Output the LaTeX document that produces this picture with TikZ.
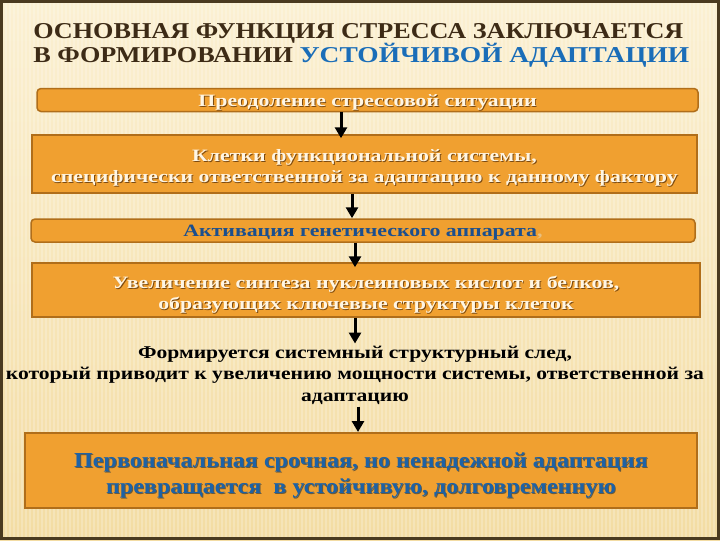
\documentclass[tikz,border=0pt]{standalone}
\usepackage{fontspec}
\setmainfont{Liberation Serif}
\newfontfamily\stT[FakeStretch=1.155]{Liberation Serif}
\newfontfamily\stB[FakeStretch=1.21]{Liberation Serif}
\newfontfamily\stA[FakeStretch=1.26]{Liberation Serif}
\newfontfamily\stF[FakeStretch=1.2]{Liberation Serif}
\newfontfamily\stS[FakeStretch=1.13]{Liberation Serif}
\usetikzlibrary{arrows.meta}
\definecolor{bgtop}{HTML}{FBF0D2}
\definecolor{bgbot}{HTML}{F3DCA3}
\definecolor{frame}{HTML}{4A3A20}
\definecolor{boxfill}{HTML}{F0A030}
\definecolor{boxedge}{HTML}{B06E1A}
\definecolor{titlec}{HTML}{3D2B16}
\definecolor{titleblue}{HTML}{1A6DB8}
\definecolor{darkblue}{HTML}{1B4F8E}
\definecolor{boxblue}{HTML}{1D62A6}
\definecolor{cream}{HTML}{FFF6E4}
\definecolor{commac}{HTML}{E8C080}
\definecolor{shadowc}{HTML}{7A4A12}
\definecolor{shadowb}{HTML}{6A5A3A}
\newcommand\PX{*0.75pt}
% text with a drop shadow
\newcommand\shw[2][shadowc]{\makebox[0pt][l]{\raisebox{-0.7pt}{\hspace{0.7pt}\textcolor{#1}{#2}}}#2}
\begin{document}
\begin{tikzpicture}[x=0.75pt,y=-0.75pt,
  stage/.style={draw=boxedge, line width=1.5\PX, fill=boxfill, inner sep=0pt},
  thinstage/.style={stage, rounded corners=4\PX},
  txt/.style={inner sep=0pt, align=center},
  whitetxt/.style={txt, text=cream, font=\stA\bfseries\fontsize{13}{15.75}\selectfont},
  arr/.style={line width=3\PX, black, -{Triangle[width=12\PX, length=11\PX]}},
  titletxt/.style={anchor=base west, inner sep=0pt, text=titlec, font=\stT\bfseries\fontsize{17}{20}\selectfont}
]
\useasboundingbox (0,0) rectangle (720,540);
% background
\shade[top color=bgtop, bottom color=bgbot] (0,0) rectangle (720,540);
\foreach \x in {2,6,...,718} \draw[white, opacity=0.22, line width=1.3\PX] (\x,0) -- (\x,540);
\draw[frame, line width=3\PX] (1.5,1.5) rectangle (718.5,538.5);

% title
\node[titletxt] (title1) at (33,38) {ОСНОВНАЯ ФУНКЦИЯ СТРЕССА ЗАКЛЮЧАЕТСЯ};
\node[titletxt] (title2) at (33,62) {В ФОРМИРОВАНИИ {\stB\textcolor{titleblue}{УСТОЙЧИВОЙ АДАПТАЦИИ}}};

% boxes
\node[thinstage, minimum width=661\PX, minimum height=23\PX] (b1) at (367.5,100) {};
\node[whitetxt] (b1t) at ([yshift=-3\PX]b1.center) {\shw{Преодоление стрессовой ситуации}};

\node[stage, minimum width=665\PX, minimum height=58\PX] (b2) at (364.5,164) {};
\node[whitetxt] (b2t) at ([yshift=-4\PX]b2.center)
  {\shw{Клетки функциональной системы,}\\\shw{специфически ответственной за адаптацию к данному фактору}};

\node[thinstage, minimum width=664\PX, minimum height=23\PX] (b3) at (363,230.5) {};
\node[txt, text=darkblue, font=\stA\bfseries\fontsize{13}{15.75}\selectfont] (b3t) at ([yshift=-2\PX]b3.center)
  {Активация генетического аппарата\textcolor{commac}{,}};

\node[stage, minimum width=668\PX, minimum height=54\PX] (b4) at (366,290) {};
\node[whitetxt] (b4t) at ([yshift=-5\PX]b4.center)
  {\shw{Увеличение синтеза нуклеиновых кислот и белков,}\\\shw{образующих ключевые структуры клеток}};

\node[txt, text=black, font=\stF\bfseries\fontsize{13.5}{16.1}\selectfont] (t5) at (355,375)
  {Формируется системный структурный след,\\который приводит к увеличению мощности системы, ответственной за\\адаптацию};

\node[stage, line width=2\PX, minimum width=672\PX, minimum height=75\PX] (b6) at (361,470.5) {};
\node[txt, text=boxblue, font=\stS\bfseries\fontsize{16}{19.5}\selectfont] (b6t) at ([yshift=-5\PX]b6.center)
  {\shw[shadowb]{Первоначальная срочная, но ненадежной адаптация}\\\shw[shadowb]{превращается\ \ в устойчивую, долговременную}};

% arrow axes
\coordinate (x1) at (341,0);
\coordinate (x2) at (352,0);
\coordinate (x3) at (355,0);
\coordinate (x4) at (355,0);
\coordinate (x5) at (358,0);

\draw[arr, shorten >=-4\PX] (b1.south -| x1) -- (b2.north -| x1);
\draw[arr] (b2.south -| x2) -- (b3.north -| x2);
\draw[arr, shorten >=-5\PX] (b3.south -| x3) -- (b4.north -| x3);
\draw[arr, shorten >=2\PX] (b4.south -| x4) -- (t5.north -| x4);
\draw[arr, shorten <=2\PX] (t5.south -| x5) -- (b6.north -| x5);
\end{tikzpicture}
\end{document}
